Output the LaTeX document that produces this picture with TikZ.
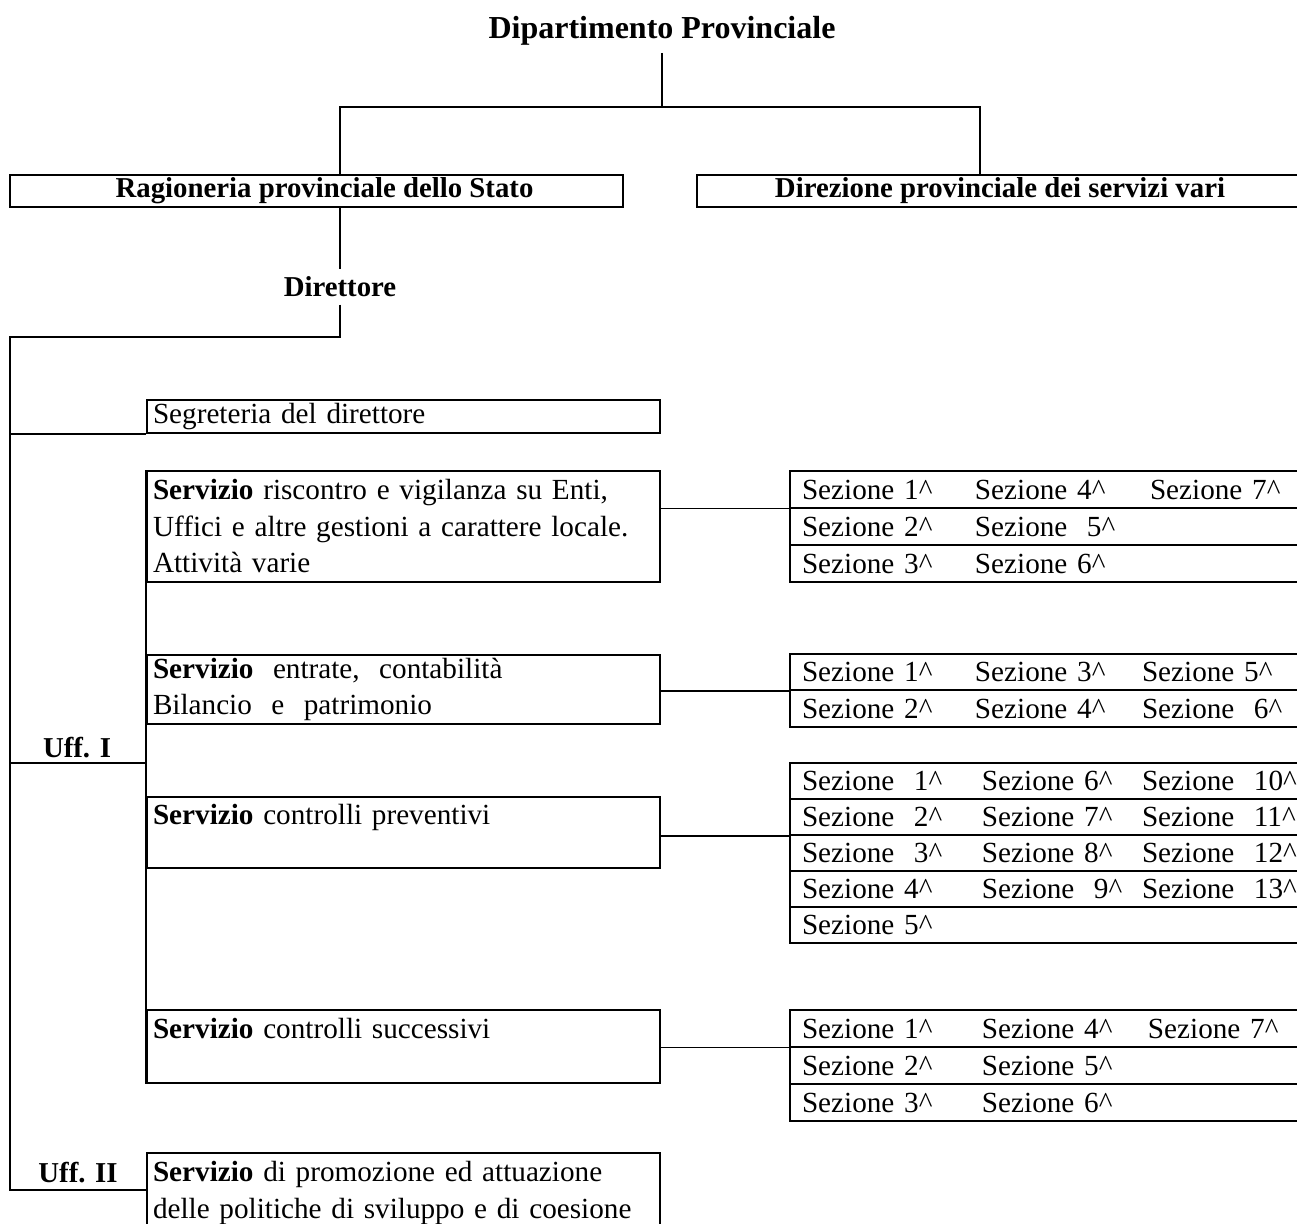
\documentclass[tikz,border=0pt]{standalone}
\usepackage{fontspec}
\setmainfont{Liberation Serif}
\usepackage{tikz}
\usetikzlibrary{positioning}
\newlength{\SezColA}
\newlength{\SezColB}
\newcommand{\Sez}[1]{Sezione #1\textasciicircum}
\newcommand{\SezRow}[5]{%
  \node[sezrow] (#1) at (1062,#2)
    {\makebox[\SezColA][l]{#3}\makebox[\SezColB][l]{#4}#5};%
}

\begin{document}
\begin{tikzpicture}[
  x=0.5pt,y=-0.5pt,
  line width=0.8pt,
  font=\fontsize{14.6pt}{18.25pt}\selectfont,
  head/.style={font=\bfseries\fontsize{14.4pt}{17pt}\selectfont},
  unit/.style={draw,inner sep=0pt,minimum height=16pt,font=\bfseries\fontsize{14.4pt}{17pt}\selectfont},
  servbox/.style={draw,inner xsep=3pt,inner ysep=0pt,text width=250.5pt,align=left},
  sezrow/.style={draw,inner xsep=6pt,inner ysep=0pt,text width=260pt,align=left,minimum height=18.25pt},
]
  \useasboundingbox (0,0) rectangle (1297,1224);

  % top levels
  \node[font=\bfseries\fontsize{16pt}{19pt}\selectfont] (dip) at (662,31) {Dipartimento Provinciale};
  \node[unit,minimum width=306.5pt] (rag) at (316.5,191) {\hspace{8pt}Ragioneria provinciale dello Stato};
  \node[unit,minimum width=303pt] (dir) at (1000,191) {Direzione provinciale dei servizi vari};
  \node[head] (direttore) at (340,287) {Direttore};

  % servizi
  \node[servbox,minimum height=16.5pt] (seg) at (403.5,416.5) {Segreteria del direttore};
  \node[servbox,minimum height=55.5pt] (s1) at (403.5,526.5)
    {\textbf{Servizio} riscontro e vigilanza su Enti,\\
     Uffici e altre gestioni a carattere locale.\\
     Attività varie};
  \node[servbox,minimum height=34.5pt] (s2) at (403.5,689.5)
    {\textbf{Servizio}\ \ entrate,\ \ contabilità\\
     Bilancio\ \ e\ \ patrimonio};
  \node[servbox,minimum height=35.5pt] (s3) at (403.5,832.5)
    {\textbf{Servizio} controlli preventivi\\\mbox{}};
  \node[servbox,minimum height=36.5pt] (s4) at (403.5,1046.5)
    {\textbf{Servizio} controlli successivi\\\mbox{}};
  \node[servbox,minimum height=55pt] (s5) at (403.5,1208)
    {\textbf{Servizio} di promozione ed attuazione\\
     delle politiche di sviluppo e di coesione\\\mbox{}};

  \node[head,anchor=south,inner sep=2pt] (uff1) at (77,763) {Uff. I};
  \node[head,anchor=south,inner sep=2pt] (uff2) at (78,1188) {Uff. II};

  % sezioni
  \setlength{\SezColA}{86.5pt}\setlength{\SezColB}{87.5pt}
  \SezRow{t1a}{489.5}{\Sez{1}}{\Sez{4}}{\Sez{7}}
  \SezRow{t1b}{526.5}{\Sez{2}}{\Sez{\ 5}}{}
  \SezRow{t1c}{563.5}{\Sez{3}}{\Sez{6}}{}

  \setlength{\SezColA}{86.5pt}\setlength{\SezColB}{83.5pt}
  \SezRow{t2a}{672}{\Sez{1}}{\Sez{3}}{\Sez{5}}
  \SezRow{t2b}{708.5}{\Sez{2}}{\Sez{4}}{\Sez{\ 6}}

  \setlength{\SezColA}{90pt}\setlength{\SezColB}{80pt}
  \SezRow{t3a}{781}{\Sez{\ 1}}{\Sez{6}}{\Sez{\ 10}}
  \SezRow{t3b}{817}{\Sez{\ 2}}{\Sez{7}}{\Sez{\ 11}}
  \SezRow{t3c}{853}{\Sez{\ 3}}{\Sez{8}}{\Sez{\ 12}}
  \SezRow{t3d}{889}{\Sez{4}}{\Sez{\ 9}}{\Sez{\ 13}}
  \SezRow{t3e}{925}{\Sez{5}}{}{}

  \setlength{\SezColA}{90pt}\setlength{\SezColB}{83pt}
  \SezRow{t4a}{1028.5}{\Sez{1}}{\Sez{4}}{\Sez{7}}
  \SezRow{t4b}{1065.5}{\Sez{2}}{\Sez{5}}{}
  \SezRow{t4c}{1102.5}{\Sez{3}}{\Sez{6}}{}

  % connectors
  \coordinate (split) at (662,107);
  \coordinate (spinetop) at (10,337);
  \coordinate (spinebot) at (10,1190);
  \draw (dip.south) -- (split);
  \draw (rag.north -| direttore) |- (split) -| ([xshift=-10pt]dir.north);
  \draw (rag.south -| direttore) -- (direttore.north);
  \draw (direttore.south) |- (spinetop) -- (spinebot) -- (spinebot -| s5.west);
  \draw (seg.south west) -- (seg.south west -| spinetop);
  \draw (s1.north west) -- (s4.south west);
  \draw (uff1.south -| spinetop) -- (uff1.south -| s1.west);

  \draw (s1.east |- t1a.south) -- (t1a.south west);
  \draw (s2.east |- t2a.south) -- (t2a.south west);
  \draw (s3.east |- t3b.south) -- (t3b.south west);
  \draw (s4.east |- t4a.south) -- (t4a.south west);
\end{tikzpicture}
\end{document}
